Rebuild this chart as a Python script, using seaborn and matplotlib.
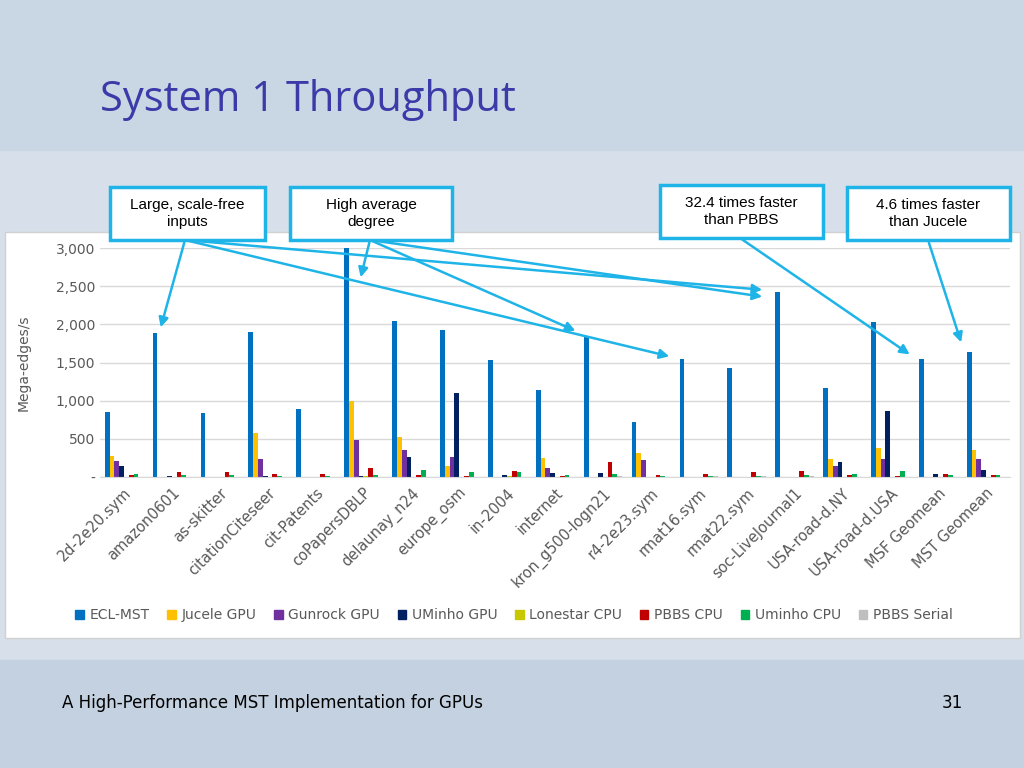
import matplotlib
matplotlib.use("Agg")
import matplotlib.pyplot as plt
import seaborn as sns
import pandas as pd
from matplotlib.patches import Rectangle
from matplotlib.ticker import FuncFormatter

categories = ["2d-2e20.sym", "amazon0601", "as-skitter", "citationCiteseer", "cit-Patents",
              "coPapersDBLP", "delaunay_n24", "europe_osm", "in-2004", "internet",
              "kron_g500-logn21", "r4-2e23.sym", "rmat16.sym", "rmat22.sym", "soc-LiveJournal1",
              "USA-road-d.NY", "USA-road-d.USA", "MSF Geomean", "MST Geomean"]
series = ["ECL-MST", "Jucele GPU", "Gunrock GPU", "UMinho GPU", "Lonestar CPU",
          "PBBS CPU", "Uminho CPU", "PBBS Serial"]
ecl_mst   = [850, 1880, 840, 1900, 890, 3000, 2040, 1920, 1530, 1140, 1840, 720, 1540, 1430, 2420, 1160, 2030, 1550, 1640]
jucele    = [280, 0, 0, 570, 0, 1000, 520, 140, 0, 250, 0, 320, 0, 0, 0, 240, 380, 0, 350]
gunrock   = [210, 0, 0, 230, 0, 480, 350, 260, 0, 120, 0, 220, 0, 0, 0, 140, 240, 0, 230]
uminho    = [150, 10, 5, 10, 5, 10, 260, 1100, 25, 50, 50, 0, 0, 0, 0, 190, 860, 40, 90]
lonestar  = [0, 0, 0, 0, 0, 10, 0, 0, 10, 0, 0, 0, 5, 5, 0, 0, 0, 0, 0]
pbbs_cpu  = [30, 60, 60, 40, 40, 120, 30, 15, 80, 10, 200, 30, 40, 60, 80, 20, 15, 40, 30]
uminho_cpu= [40, 25, 20, 15, 10, 20, 90, 60, 70, 30, 40, 10, 10, 10, 20, 40, 80, 30, 30]
pbbs_ser  = [0, 5, 5, 5, 5, 5, 0, 0, 5, 5, 10, 0, 10, 10, 10, 0, 0, 0, 0]
colors = ["#0070c0", "#ffc000", "#7030a0", "#002060", "#c8c800", "#c00000", "#00b050", "#bfbfbf"]

vals = [ecl_mst, jucele, gunrock, uminho, lonestar, pbbs_cpu, uminho_cpu, pbbs_ser]
rows = []
for s, v in zip(series, vals):
    for c, x in zip(categories, v):
        rows.append({"cat": c, "series": s, "val": x})
df = pd.DataFrame(rows)

W, H = 1024, 768
fig = plt.figure(figsize=(W/100, H/100), dpi=100)
fig.patch.set_facecolor("#d7e0ea")
def fx(x): return x / W
def fy(y): return 1 - y / H
fig.patches.append(Rectangle((0, fy(150)), 1, 150/H, transform=fig.transFigure, color="#c9d6e4", zorder=-2))
fig.patches.append(Rectangle((fx(5), fy(638)), fx(1015), (638-232)/H, transform=fig.transFigure,
                             facecolor="white", edgecolor="#d0d0d0", zorder=-2))
fig.patches.append(Rectangle((0, 0), 1, (768-660)/H, transform=fig.transFigure, color="#c3d1e0", zorder=-2))

ax = fig.add_axes([fx(100), fy(477), fx(910), (477-248)/H])
ax.set_zorder(2)
ax.patch.set_alpha(0)
sns.barplot(data=df, x="cat", y="val", hue="series", palette=colors, ax=ax,
            width=0.8, saturation=1, legend=False)
for p in ax.patches:
    p.set_clip_on(False)
ax.set_ylim(0, 3000)
ax.set_yticks([0, 500, 1000, 1500, 2000, 2500, 3000])
ax.yaxis.set_major_formatter(FuncFormatter(lambda v, p: "-" if v == 0 else f"{int(v):,}"))
ax.grid(axis="y", color="#d9d9d9", lw=1)
ax.set_axisbelow(True)
for s in ax.spines.values():
    s.set_visible(False)
ax.spines["bottom"].set_visible(True)
ax.spines["bottom"].set_color("#d9d9d9")
ax.tick_params(length=0, labelsize=10, colors="#595959")
ax.set_xlabel("")
ax.set_ylabel("Mega-edges/s", fontsize=10, color="#595959", labelpad=18)
ax.set_xlim(-0.5, len(categories) - 0.5)
plt.setp(ax.get_xticklabels(), rotation=45, ha="right", rotation_mode="anchor", fontsize=10.5)
ax.tick_params(axis="x", pad=6)

handles = [Rectangle((0, 0), 1, 1, color=c) for c in colors]
fig.legend(handles, series, loc="center", bbox_to_anchor=(fx(514), fy(615)), ncol=8, frameon=False,
           fontsize=10, handlelength=0.6, handleheight=0.6, columnspacing=1.3, handletextpad=0.4,
           labelcolor="#595959")

fig.text(fx(100), fy(100), "System 1 Throughput", fontsize=30, color="#3a3aa8", va="center",
         family="Open Sans")

boxes = [((110, 187, 155, 53), "Large, scale-free\ninputs"),
         ((290, 187, 162, 53), "High average\ndegree"),
         ((660, 185, 163, 53), "32.4 times faster\nthan PBBS"),
         ((847, 187, 163, 53), "4.6 times faster\nthan Jucele")]
for (x, y, w, h), t in boxes:
    fig.patches.append(Rectangle((fx(x), fy(y+h)), w/W, h/H, transform=fig.transFigure,
                                 facecolor="white", edgecolor="#1fb4e8", lw=2.5, zorder=5))
    fig.text(fx(x+w/2), fy(y+h/2), t, ha="center", va="center", fontsize=11, zorder=6,
             family="Liberation Sans", linespacing=1.3)

arrows = [((185, 240), (160, 330)), ((185, 240), (765, 290)), ((185, 240), (672, 357)),
          ((370, 240), (360, 280)), ((370, 240), (765, 297)), ((370, 240), (578, 332)),
          ((740, 238), (912, 356)), ((928, 240), (962, 345))]
for (x0, y0), (x1, y1) in arrows:
    fig.add_artist(matplotlib.patches.FancyArrowPatch((fx(x0), fy(y0)), (fx(x1), fy(y1)),
                   transform=fig.transFigure, arrowstyle="-|>", mutation_scale=14,
                   color="#1fb4e8", lw=1.8, zorder=7))

fig.text(fx(62), fy(703), "A High-Performance MST Implementation for GPUs", fontsize=12, va="center")
fig.text(fx(952), fy(703), "31", fontsize=12, va="center", ha="center")
fig.savefig("out.png", dpi=100, facecolor=fig.get_facecolor())
